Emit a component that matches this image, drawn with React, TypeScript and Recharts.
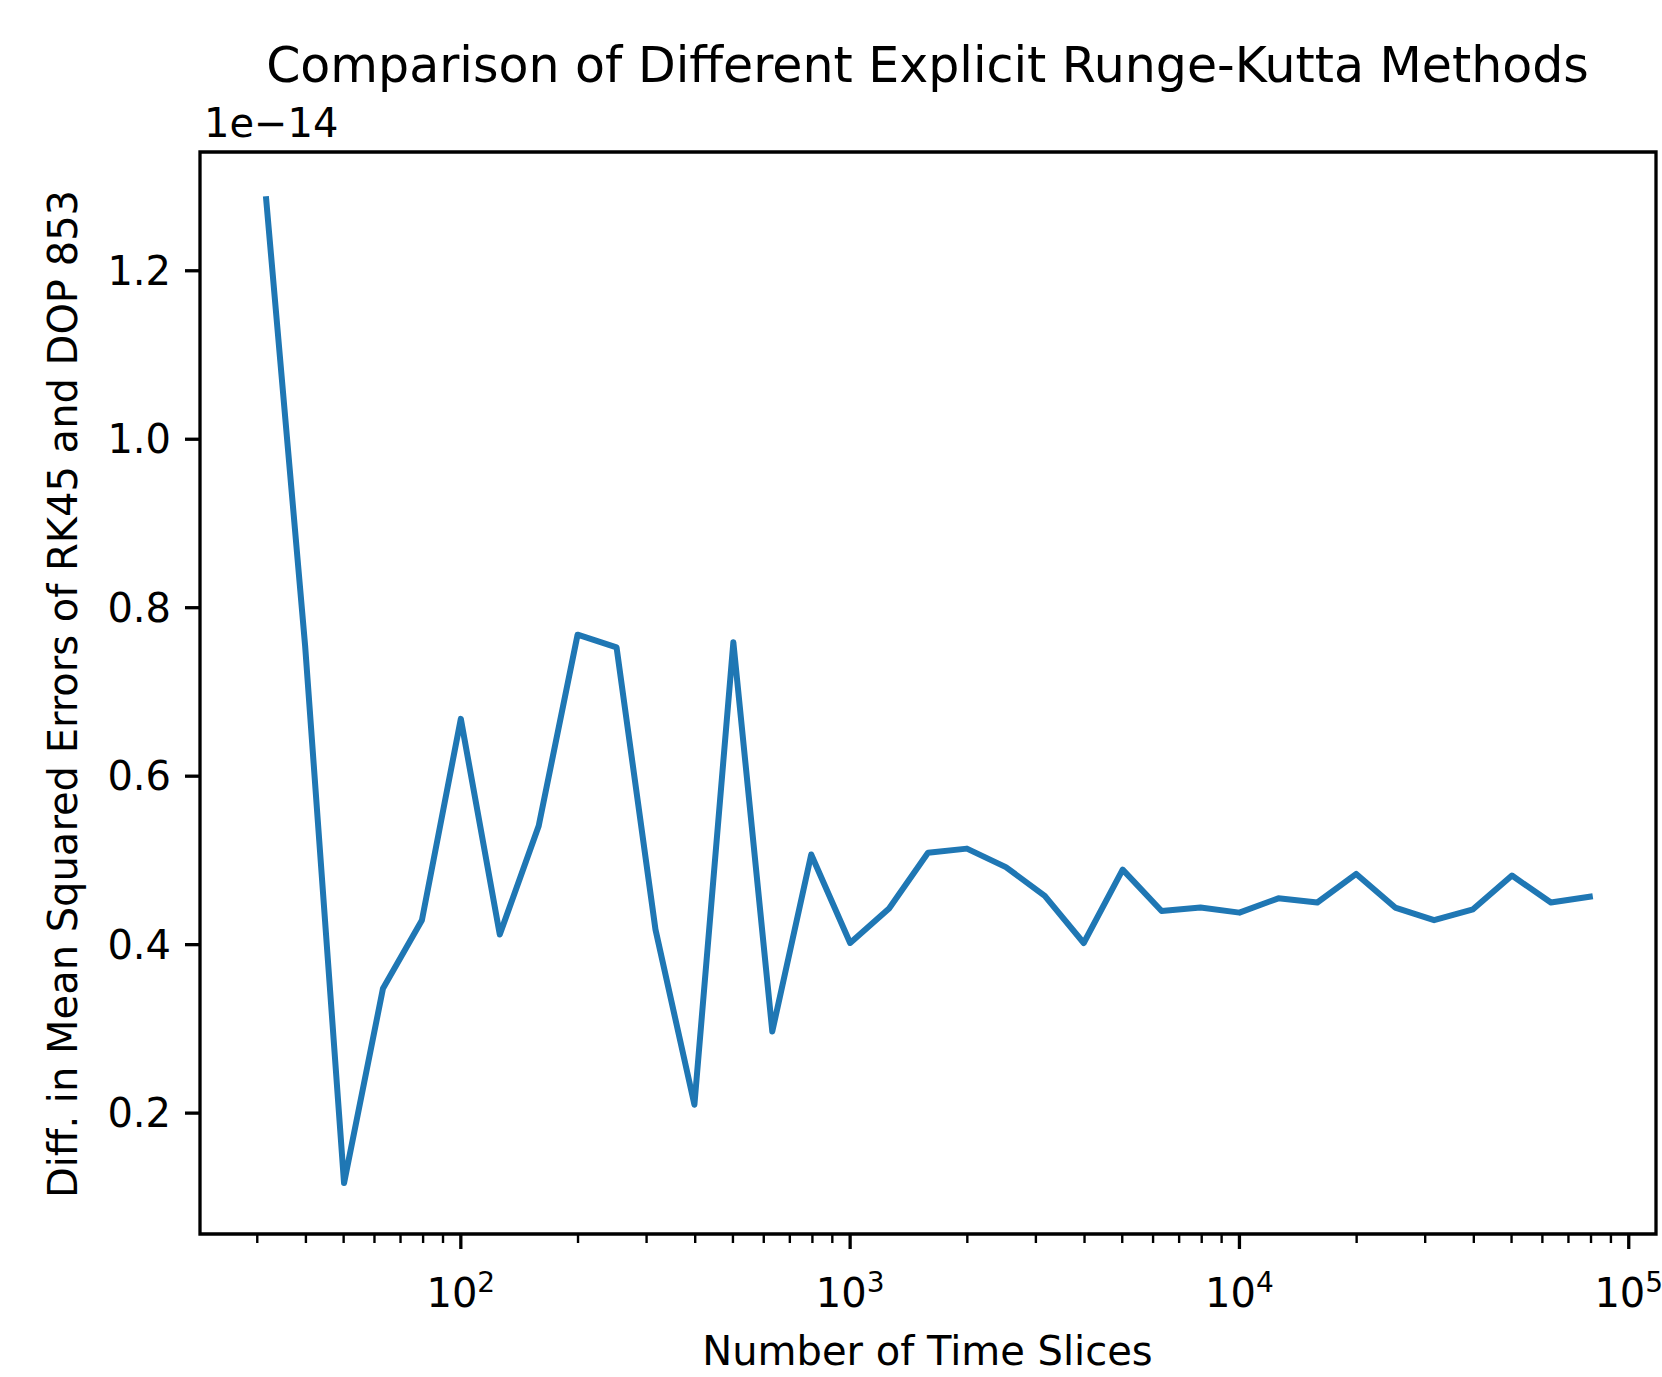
import { LineChart, Line, XAxis, YAxis, ReferenceArea } from 'recharts'

const FONT = '"DejaVu Sans", sans-serif'

// number of time slices (log-spaced) and MSE difference, in units of 1e-14
const timeSlices = [
  31.62, 39.81, 50.12, 63.1, 79.43, 100, 125.9, 158.5, 199.5, 251.2, 316.2, 398.1,
  501.2, 631, 794.3, 1000, 1259, 1585, 1995, 2512, 3162, 3981, 5012, 6310, 7943,
  10000, 12589, 15849, 19953, 25119, 31623, 39811, 50119, 63096, 79433,
]
const mseDiff = [
  1.285, 0.755, 0.117, 0.348, 0.429, 0.668, 0.412, 0.541, 0.768, 0.753, 0.418, 0.21,
  0.759, 0.297, 0.507, 0.402, 0.443, 0.509, 0.514, 0.492, 0.458, 0.402, 0.489, 0.44,
  0.444, 0.438, 0.455, 0.45, 0.484, 0.444, 0.429, 0.442, 0.482, 0.45, 0.457,
]

const xMajorTicks = [100, 1000, 10000, 100000]
const xMajorExponents = ['2', '3', '4', '5']
const xMinorTicks = [
  30, 40, 50, 60, 70, 80, 90,
  200, 300, 400, 500, 600, 700, 800, 900,
  2000, 3000, 4000, 5000, 6000, 7000, 8000, 9000,
  20000, 30000, 40000, 50000, 60000, 70000, 80000, 90000,
]
const yTicks = [0.2, 0.4, 0.6, 0.8, 1.0, 1.2]

const xDomain: [number, number] = [21.38, 117490]
const yDomain: [number, number] = [0.0565, 1.341]

const data = timeSlices.map((n, i) => ({ n, diff: mseDiff[i] }))

function LogTick({ x, y, payload }: any) {
  const idx = xMajorTicks.indexOf(payload.value)
  if (idx < 0) {
    return <line x1={x} x2={x} y1={y} y2={y + 9} stroke="#000" strokeWidth={2.4} />
  }
  return (
    <g>
      <line x1={x} x2={x} y1={y} y2={y + 15} stroke="#000" strokeWidth={3.3} />
      <text x={x} y={y + 73} textAnchor="middle" fontSize={40} fill="#000" fontFamily={FONT}>
        <tspan>10</tspan>
        <tspan dy={-15} fontSize={28}>{xMajorExponents[idx]}</tspan>
      </text>
    </g>
  )
}

export default function App() {
  return (
    <div
      style={{
        position: 'absolute',
        left: 0,
        top: 0,
        width: 1662,
        height: 1377,
        background: '#fff',
        fontFamily: FONT,
      }}
    >
      <LineChart
        width={1662}
        height={1377}
        data={data}
        margin={{ top: 152, right: 6, bottom: 63, left: 80 }}
      >
        <XAxis
          dataKey="n"
          type="number"
          scale="log"
          domain={xDomain}
          ticks={[...xMajorTicks, ...xMinorTicks]}
          interval={0}
          tick={<LogTick />}
          tickLine={false}
          tickSize={0}
          tickMargin={0}
          axisLine={false}
          height={80}
          allowDataOverflow
        />
        <YAxis
          type="number"
          domain={yDomain}
          ticks={yTicks}
          tickFormatter={(v: number) => v.toFixed(1)}
          tick={{ fontSize: 40, fill: '#000', fontFamily: FONT }}
          tickLine={{ stroke: '#000', strokeWidth: 3.3 }}
          tickSize={15}
          tickMargin={14}
          axisLine={false}
          width={120}
          allowDataOverflow
        />
        <ReferenceArea
          x1={xDomain[0]}
          x2={xDomain[1]}
          y1={yDomain[0]}
          y2={yDomain[1]}
          fill="none"
          stroke="#000"
          strokeWidth={3.3}
          ifOverflow="visible"
        />
        <Line
          type="linear"
          dataKey="diff"
          stroke="#1f77b4"
          strokeWidth={6}
          strokeLinejoin="round"
          strokeLinecap="square"
          dot={false}
          activeDot={false}
          isAnimationActive={false}
        />
      </LineChart>
      <svg
        width={1662}
        height={1377}
        style={{ position: 'absolute', left: 0, top: 0, pointerEvents: 'none' }}
      >
        <g fontFamily={FONT} fill="#000">
          <text x={927.5} y={82} textAnchor="middle" fontSize={49}>
            Comparison of Different Explicit Runge-Kutta Methods
          </text>
          <text x={204} y={137} textAnchor="start" fontSize={40}>
            1e−14
          </text>
          <text x={927.5} y={1365} textAnchor="middle" fontSize={40}>
            Number of Time Slices
          </text>
          <text x={77} y={694} textAnchor="middle" fontSize={40} transform="rotate(-90, 77, 694)">
            Diff. in Mean Squared Errors of RK45 and DOP 853
          </text>
        </g>
      </svg>
    </div>
  )
}
